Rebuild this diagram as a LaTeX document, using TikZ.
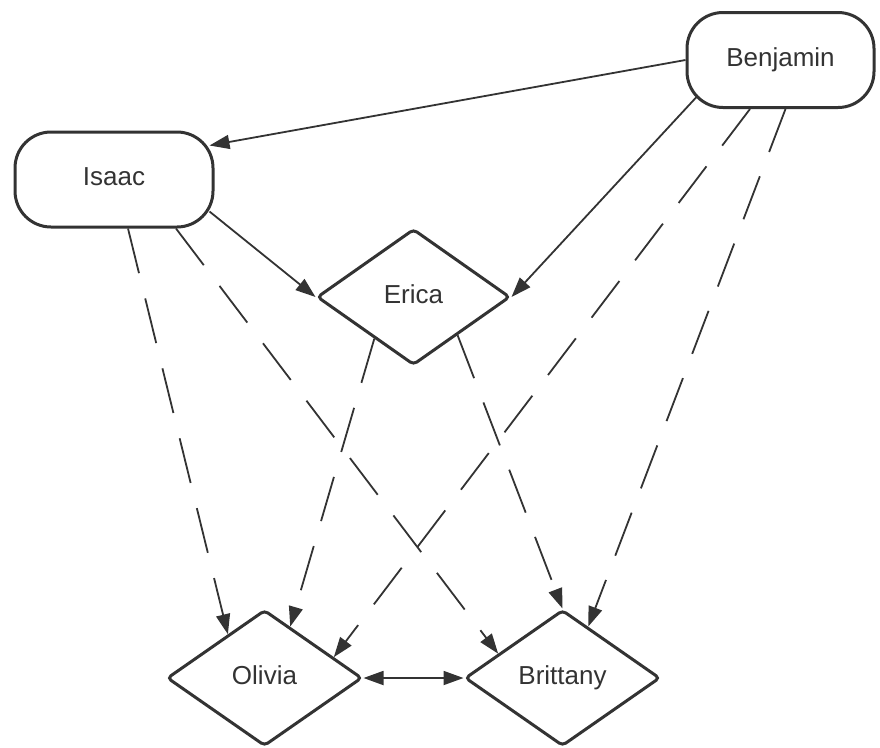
\documentclass[tikz,border=0pt]{standalone}
\usepackage{fontspec}
\setmainfont{Liberation Sans}
\usepackage{xcolor}
\usepackage{tikz}
\usetikzlibrary{arrows.meta,shapes.geometric,calc}
\definecolor{ink}{HTML}{333333}

\begin{document}
\begin{tikzpicture}[x=1pt,y=-1pt,
		font=\fontsize{26}{30}\selectfont,text=ink,
		pill/.style={draw=ink,line width=3pt,rounded corners=36pt,minimum width=198pt,minimum height=95pt,inner sep=0pt,text height=18pt,text depth=6pt},
		kite/.style={draw=ink,line width=3pt,diamond,aspect=1.4,rounded corners=4pt,minimum width=195pt,minimum height=136pt,inner sep=0pt,text height=18pt,text depth=6pt}]
		\useasboundingbox (0,0) rectangle (880,747);
		\node[pill,minimum width=187pt] (B) at (780.5,60) {Benjamin};
		\node[pill] (I) at (114,179.5) {Isaac};
		\node[kite,minimum width=193pt] (E) at (413.5,297) {Erica};
		\node[kite] (O) at (264.5,678) {Olivia};
		\node[kite] (Bt) at (562.5,678) {Brittany};
		%
		\path[->,color=ink,line width=1.8pt,>={Triangle[length=20pt,width=14pt]}]
		(B.west) edge ([xshift=-5pt,yshift=-15pt]I.north east)
		([xshift=11pt,yshift=12pt]B.south west) edge (E.east)
		([xshift=-5pt,yshift=17pt]I.south east) edge (E.west)
		(O.east) edge[<->] (Bt.west);
		%
		\path[->,color=ink,line width=1.8pt,dash pattern=on 46pt off 26pt,>={Triangle[length=20pt,width=14pt]}]
		([xshift=14pt]I.south) edge ($(O.west)!.63!(O.north)$)
		([xshift=62pt]I.south) edge ($(Bt.west)!.35!(Bt.north)$)
		($(E.west)!.6!(E.south)$) edge ($(O.north)!.26!(O.east)$)
		($(E.east)!.55!(E.south)$) edge (Bt.north)
		([xshift=-30.5pt]B.south) edge ($(O.north)!.7!(O.east)$)
		([xshift=5pt]B.south) edge ($(Bt.north)!.26!(Bt.east)$);
	\end{tikzpicture}
\end{document}
